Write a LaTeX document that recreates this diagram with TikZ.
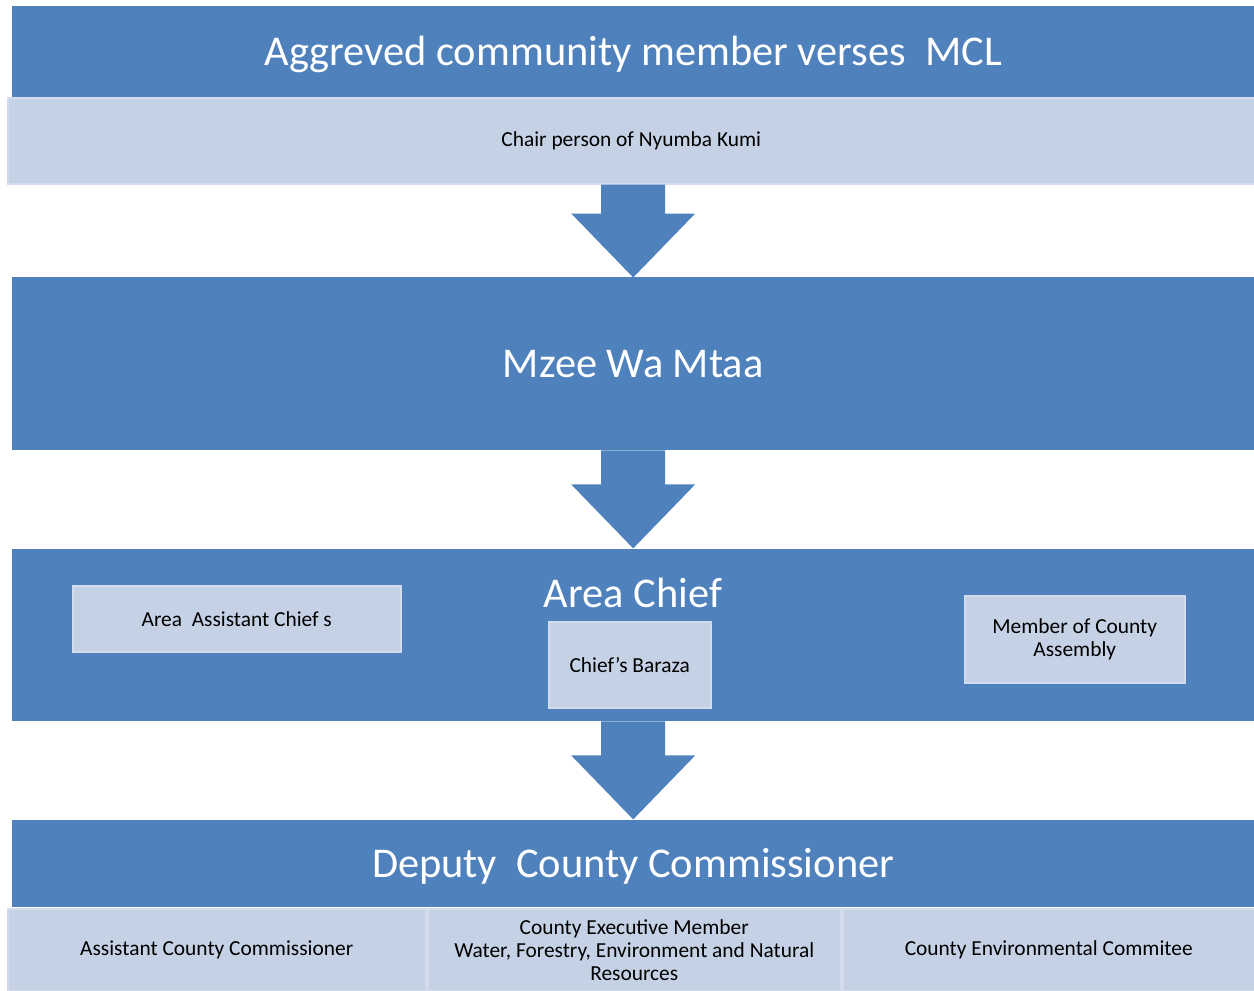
\documentclass[tikz,border=0pt]{standalone}
\usepackage{fontspec}
\setmainfont{Carlito}
\definecolor{barblue}{HTML}{4F81BD}
\definecolor{panelfill}{HTML}{C5D2E5}
\definecolor{panelrim}{HTML}{D3DCEC}
\begin{document}
\begin{tikzpicture}[x=1pt,y=-1pt,
  bar/.style={fill=barblue, draw=none, anchor=north west, inner sep=0pt,
    text=white, font=\fontsize{42.4}{50}\selectfont, text height=27pt, text depth=0pt},
  bartitle/.style={inner sep=0pt, text=white, font=\fontsize{42.4}{50}\selectfont},
  panel/.style={fill=panelfill, draw=panelrim, line width=1.5pt, anchor=north west,
    inner sep=0pt, align=center, text=black, font=\fontsize{21.4}{23}\selectfont},
  pics/blockarrow/.style={code={
    \fill[barblue] (-32,0) -- (32,0) -- (32,#1) -- (62,#1) -- (0,#1+64)
      -- (-62,#1) -- (-32,#1) -- cycle;}}
]
\useasboundingbox (0,0) rectangle (1254,991);

% first level
\node[bar, minimum width=1242pt, minimum height=91pt] (top) at (12,6)
  {Aggreved community member verses\ \ MCL};
\node[panel, minimum width=1247pt, minimum height=86pt] (chair) at (7,97)
  {Chair person of Nyumba Kumi};

% second level
\node[bar, minimum width=1242pt, minimum height=173pt] (mzee) at (12,277) {Mzee Wa Mtaa};

% third level
\node[bar, minimum width=1242pt, minimum height=172pt] (chief) at (12,549) {};
\node[bartitle] (chieftitle) at (633,593) {Area Chief};
\node[panel, minimum width=328pt, minimum height=66pt] (assist) at (72,585)
  {Area\ \ Assistant Chief s};
\node[panel, minimum width=162pt, minimum height=86pt] (baraza) at (548,621)
  {Chief's Baraza};
\node[panel, minimum width=220pt, minimum height=87pt] (mca) at (964,595)
  {Member of County\\Assembly};

% fourth level
\node[bar, minimum width=1242pt, minimum height=87pt] (deputy) at (12,820)
  {Deputy\ \ County Commissioner};
\node[panel, minimum width=418pt, minimum height=82pt] (acc) at (7,908)
  {Assistant County Commissioner};
\node[panel, minimum width=413pt, minimum height=82pt] (cec) at (427,908)
  {County Executive Member\\Water, Forestry, Environment and Natural\\Resources};
\node[panel, minimum width=412pt, minimum height=82pt] (cenv) at (842,908)
  {County Environmental Commitee};

% block arrows between the levels
\pic at (chair.south -| top.south) {blockarrow=29};
\pic at (mzee.south) {blockarrow=34};
\pic at (chief.south) {blockarrow=34};
\end{tikzpicture}
\end{document}
